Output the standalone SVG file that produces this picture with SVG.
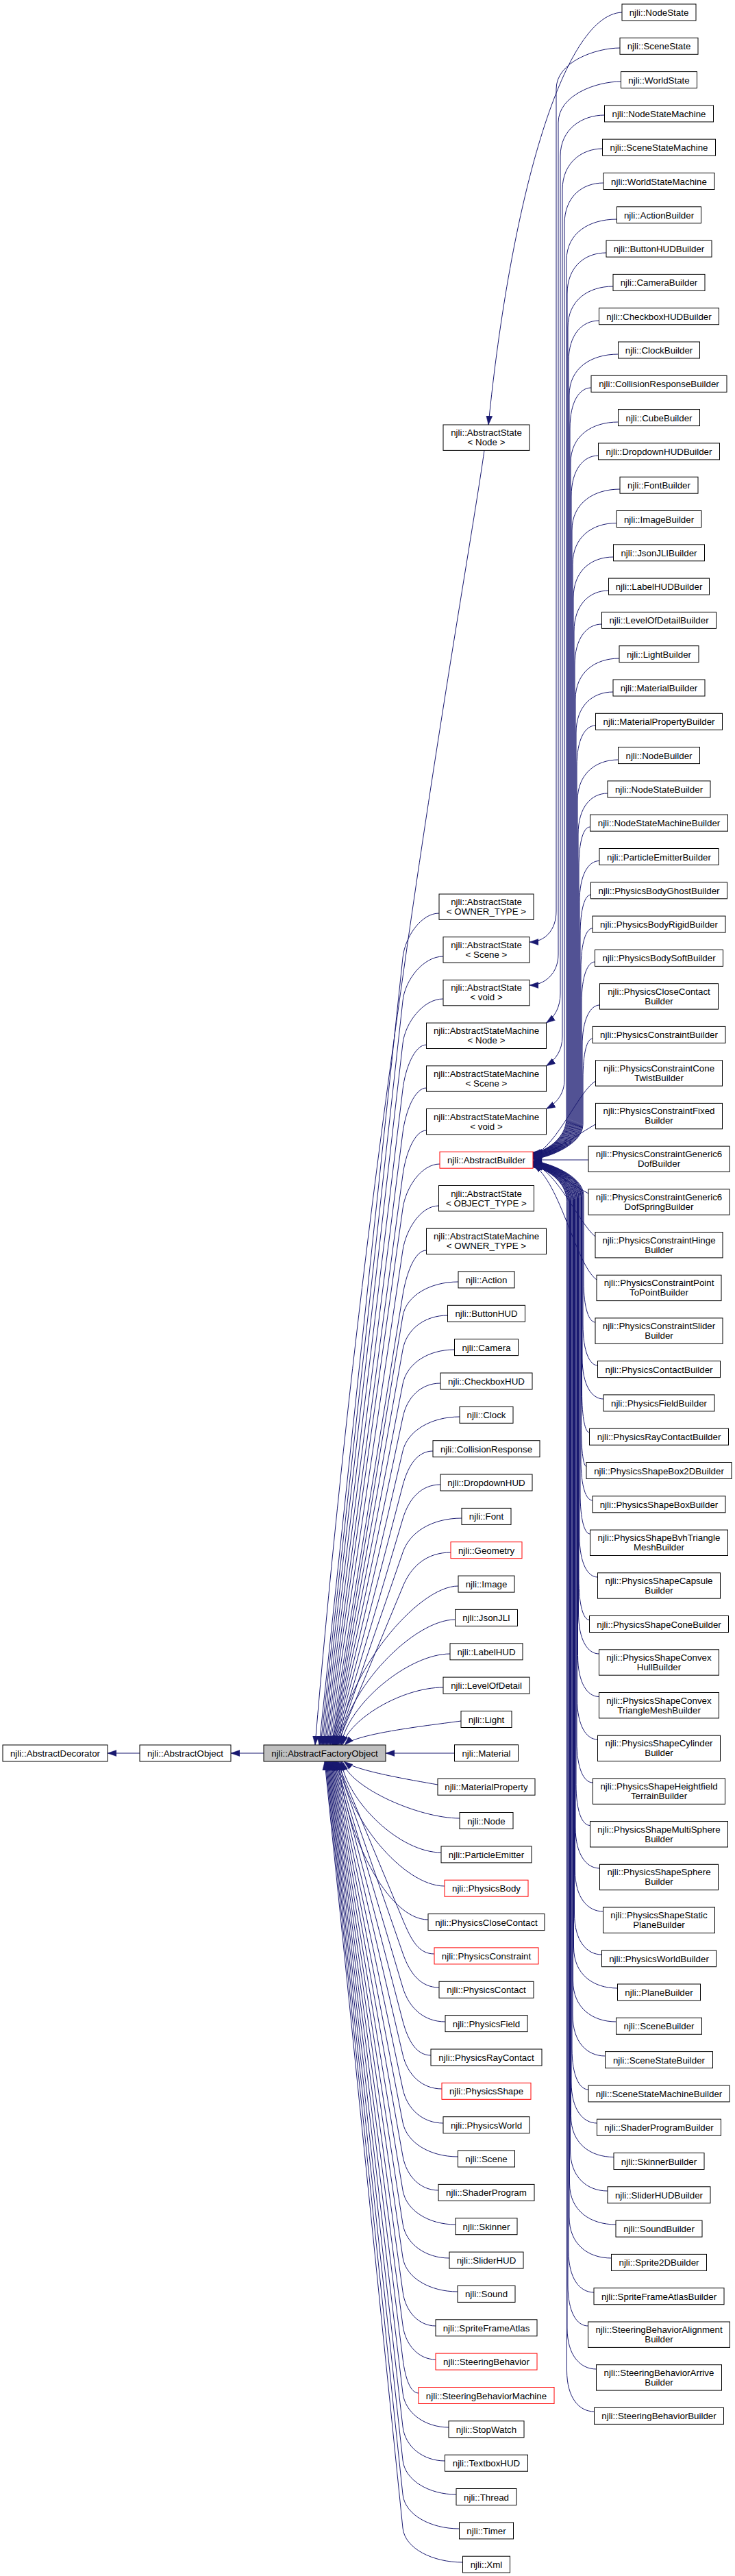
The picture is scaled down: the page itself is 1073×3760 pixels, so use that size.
<svg xmlns="http://www.w3.org/2000/svg" width="1073" height="3760" viewBox="0 0 1073 3760">
<style>
.n rect{fill:#fff;stroke:#000;stroke-width:1}
.r rect{fill:#fff;stroke:#f00;stroke-width:1}
.root rect{fill:#bfbfbf;stroke:#000;stroke-width:1}
text{font-family:"Liberation Sans",Arial,Helvetica,sans-serif;font-size:13.33px;fill:#000;text-anchor:middle}
.e path{fill:none;stroke:#191970;stroke-width:1;marker-end:url(#ah)}
</style>
<defs>
<marker id="ah" markerUnits="userSpaceOnUse" markerWidth="13" markerHeight="10" viewBox="0 0 13 10" refX="13" refY="5" orient="auto">
<path d="M0,0.5 L13,5 L0,9.5 z" fill="#191970" stroke="#191970" stroke-width="0.5"/>
</marker>
</defs>
<rect width="1073" height="3760" fill="#fff"/>
<g id="edges" class="e">
<path d="M385,2559 L337,2559"/>
<path d="M204,2559 L157,2559"/>
<path d="M908,18 C820,22 745,300 713,620"/>
<path d="M905,70 C870,70 812,90 812,130 L812,1330 C812,1358 795,1375 773,1375"/>
<path d="M906.5,119 C870,119 815,139 815,179 L815,1393 C815,1421 795,1438 773,1438"/>
<path d="M882.5,168 C850,168 818,188 818,228 L818,1450 C818,1470 810,1484 797.5,1493.1"/>
<path d="M879.5,217 C850,217 821,237 821,277 L821,1513 C821,1533 811,1547 797.5,1555.8"/>
<path d="M881,267 C850,267 824,287 824,327 L824,1576 C824,1596 813,1610 797.5,1618.5"/>
<path d="M900.5,320 C860,320 827,340 827,380 L827,1632 C827,1662 795,1682 778,1682"/>
<path d="M885,369 C854,369 828,389 828,429 L828,1632.4 C828,1662.4 795,1682.4 778,1682.4"/>
<path d="M895,418 C859,418 829,438 829,478 L829,1632.8 C829,1662.8 795,1682.8 778,1682.8"/>
<path d="M874.5,468 C850,468 830,488 830,528 L830,1633.2 C830,1663.2 795,1683.2 778,1683.2"/>
<path d="M902.5,517 C863,517 831,537 831,577 L831,1633.6 C831,1663.6 795,1683.6 778,1683.6"/>
<path d="M863,566 C846,566 832,586 832,626 L832,1634 C832,1664 795,1684 778,1684"/>
<path d="M902.5,616 C864,616 833,636 833,676 L833,1634.4 C833,1664.4 795,1684.4 778,1684.4"/>
<path d="M873.5,665 C852,665 834,685 834,725 L834,1634.8 C834,1664.8 795,1684.8 778,1684.8"/>
<path d="M905,714 C867,714 835,734 835,774 L835,1635.2 C835,1665.2 795,1685.2 778,1685.2"/>
<path d="M900,763.5 C865,763.5 836,783.5 836,823.5 L836,1635.6 C836,1665.6 795,1685.6 778,1685.6"/>
<path d="M895.5,813 C863,813 837,833 837,873 L837,1636 C837,1666 795,1686 778,1686"/>
<path d="M888.5,862 C861,862 838,882 838,922 L838,1636.4 C838,1666.4 795,1686.4 778,1686.4"/>
<path d="M878.5,911 C857,911 839,931 839,971 L839,1636.8 C839,1666.8 795,1686.8 778,1686.8"/>
<path d="M904,961 C869,961 840,981 840,1021 L840,1637.2 C840,1667.2 795,1687.2 778,1687.2"/>
<path d="M895,1010 C865,1010 841,1030 841,1070 L841,1637.6 C841,1667.6 795,1687.6 778,1687.6"/>
<path d="M869.5,1059 C854,1059 842,1079 842,1119 L842,1638 C842,1668 795,1688 778,1688"/>
<path d="M902.5,1109 C870,1109 843,1129 843,1169 L843,1638.4 C843,1668.4 795,1688.4 778,1688.4"/>
<path d="M887,1158 C863,1158 844,1178 844,1218 L844,1638.8 C844,1668.8 795,1688.8 778,1688.8"/>
<path d="M861.5,1207 C852,1207 845,1227 845,1267 L845,1639.2 C845,1669.2 795,1689.2 778,1689.2"/>
<path d="M875,1256.5 C859,1256.5 846,1276.5 846,1316.5 L846,1639.6 C846,1669.6 795,1689.6 778,1689.6"/>
<path d="M862.5,1306 C854,1306 847,1326 847,1366 L847,1640 C847,1670 795,1690 778,1690"/>
<path d="M865,1355 C856,1355 848,1375 848,1415 L848,1640.4 C848,1670.4 795,1690.4 778,1690.4"/>
<path d="M868.5,1404 C858,1404 849,1424 849,1464 L849,1640.8 C849,1670.8 795,1690.8 778,1690.8"/>
<path d="M875.5,1467 C862,1467 850,1487 850,1527 L850,1641.2 C850,1671.2 795,1691.2 778,1691.2"/>
<path d="M865,1516 C857,1516 851,1536 851,1576 L851,1641.6 C851,1671.6 795,1691.6 778,1691.6"/>
<path d="M869.5,1578 C845,1592 815,1670 778,1687.5"/>
<path d="M869.5,1641 C845,1655 805,1683 778,1690"/>
<path d="M859,1693 L778,1693"/>
<path d="M859,1742 C835,1730 805,1705 778,1696"/>
<path d="M869,1805 C845,1785 815,1712 778,1698"/>
<path d="M871,1868 C840,1845 818,1725 778,1700"/>
<path d="M869,1930 C860,1930 852,1910 852,1870 L852,1745 C852,1715 795,1695 778,1695"/>
<path d="M872.5,1993 C861,1993 851,1973 851,1933 L851,1745.3 C851,1715.3 795,1695.3 778,1695.3"/>
<path d="M881,2042 C864,2042 850,2022 850,1982 L850,1745.6 C850,1715.6 795,1695.6 778,1695.6"/>
<path d="M860.5,2091 C854.5,2091 849.5,2071 849.5,2031 L849.5,1745.9 C849.5,1715.9 795,1695.9 778,1695.9"/>
<path d="M856,2140.5 C852,2140.5 848.5,2120.5 848.5,2080.5 L848.5,1746.2 C848.5,1716.2 795,1696.2 778,1696.2"/>
<path d="M865,2190 C855.5,2190 848,2170 848,2130 L848,1746.5 C848,1716.5 795,1696.5 778,1696.5"/>
<path d="M861.5,2239 C853.5,2239 847,2219 847,2179 L847,1746.8 C847,1716.8 795,1696.8 778,1696.8"/>
<path d="M872.5,2302 C858,2302 846,2282 846,2242 L846,1747.1 C846,1717.1 795,1697.1 778,1697.1"/>
<path d="M860.5,2364.5 C852,2364.5 845,2344.5 845,2304.5 L845,1747.4 C845,1717.4 795,1697.4 778,1697.4"/>
<path d="M874.5,2414 C858,2414 844.5,2394 844.5,2354 L844.5,1747.7 C844.5,1717.7 795,1697.7 778,1697.7"/>
<path d="M874.5,2476.5 C857.5,2476.5 843.5,2456.5 843.5,2416.5 L843.5,1748 C843.5,1718 795,1698 778,1698"/>
<path d="M872.5,2539 C856,2539 842.5,2519 842.5,2479 L842.5,1748.3 C842.5,1718.3 795,1698.3 778,1698.3"/>
<path d="M865.5,2602 C852.5,2602 842,2582 842,2542 L842,1748.6 C842,1718.6 795,1698.6 778,1698.6"/>
<path d="M861.5,2664.5 C850,2664.5 841,2644.5 841,2604.5 L841,1748.9 C841,1718.9 795,1698.9 778,1698.9"/>
<path d="M875.5,2727 C856,2727 840,2707 840,2667 L840,1749.2 C840,1719.2 795,1699.2 778,1699.2"/>
<path d="M880.5,2790 C858,2790 839.5,2770 839.5,2730 L839.5,1749.5 C839.5,1719.5 795,1699.5 778,1699.5"/>
<path d="M878.5,2853 C856.5,2853 838.5,2833 838.5,2793 L838.5,1749.8 C838.5,1719.8 795,1699.8 778,1699.8"/>
<path d="M901.5,2902 C866,2902 837.5,2882 837.5,2842 L837.5,1750.1 C837.5,1720.1 795,1700.1 778,1700.1"/>
<path d="M899.5,2951 C865,2951 836.5,2931 836.5,2891 L836.5,1750.4 C836.5,1720.4 795,1700.4 778,1700.4"/>
<path d="M883.5,3001 C857,3001 836,2981 836,2941 L836,1750.7 C836,1720.7 795,1700.7 778,1700.7"/>
<path d="M859,3050 C846,3050 835,3030 835,2990 L835,1751 C835,1721 795,1701 778,1701"/>
<path d="M871.5,3099 C851,3099 834,3079 834,3039 L834,1751.3 C834,1721.3 795,1701.3 778,1701.3"/>
<path d="M896,3148.5 C861.5,3148.5 833.5,3128.5 833.5,3088.5 L833.5,1751.6 C833.5,1721.6 795,1701.6 778,1701.6"/>
<path d="M887,3198 C857,3198 832.5,3178 832.5,3138 L832.5,1751.9 C832.5,1721.9 795,1701.9 778,1701.9"/>
<path d="M899,3247 C862,3247 831.5,3227 831.5,3187 L831.5,1752.2 C831.5,1722.2 795,1702.2 778,1702.2"/>
<path d="M892.5,3296 C858.5,3296 831,3276 831,3236 L831,1752.5 C831,1722.5 795,1702.5 778,1702.5"/>
<path d="M867,3346 C846.5,3346 830,3326 830,3286 L830,1752.8 C830,1722.8 795,1702.8 778,1702.8"/>
<path d="M858.5,3395 C842,3395 829,3375 829,3335 L829,1753.1 C829,1723.1 795,1703.1 778,1703.1"/>
<path d="M870.5,3458 C847,3458 828,3438 828,3398 L828,1753.4 C828,1723.4 795,1703.4 778,1703.4"/>
<path d="M867.5,3520 C845.5,3520 827.5,3500 827.5,3460 L827.5,1753.7 C827.5,1723.7 795,1703.7 778,1703.7"/>
<path d="M707,657.4 C680,850 540,1600 460,2547"/>
<path d="M641,1333 C614.5,1333 591,1368 588,1398 L466,2547"/>
<path d="M647,1396 C617.5,1396 591,1431 588,1461 L468,2547"/>
<path d="M647,1458 C617.5,1458 591.5,1493 588,1523 L470,2547"/>
<path d="M622.5,1525 C605,1525 591.5,1560 588,1590 L472,2547"/>
<path d="M622.5,1588 C605,1588 592,1623 588,1653 L474,2547"/>
<path d="M622.5,1650 C605,1650 592,1685 588,1715 L476,2547"/>
<path d="M642,1699 C615,1699 592,1734 588,1764 L478,2547"/>
<path d="M640.5,1760 C614,1760 592.5,1795 588,1825 L480,2547"/>
<path d="M622.5,1825 C605,1825 593,1860 588,1890 L482,2547"/>
<path d="M669,1871 C628,1871 593,1891 588,1921 L484,2547"/>
<path d="M653.5,1920 C620,1920 593.4,1940 588,1970 L485,2547"/>
<path d="M663.5,1970 C625,1970 594,1990 588,2020 L486,2547"/>
<path d="M643,2019 C615,2019 594,2039 588,2069 L487,2547"/>
<path d="M671,2068 C630,2068 595,2088 588,2118 L488,2547"/>
<path d="M632,2118 C610,2118 596,2138 588,2168 L489,2547"/>
<path d="M643,2167 C615,2167 597,2187 588,2217 L490,2547"/>
<path d="M674,2216 C631,2216 598,2236 588,2266 L491,2547"/>
<path d="M658,2266 C623,2266 600,2286 588,2316 L492,2547"/>
<path d="M669,2315 C609,2315 504,2443 494,2547"/>
<path d="M664.5,2364 C604,2364 506,2465 496,2547"/>
<path d="M657,2414 C597,2414 508,2487 498,2547"/>
<path d="M647,2463 C587,2463 510,2509 500,2547"/>
<path d="M673,2512 C630,2518 520,2530 503,2547"/>
<path d="M663.5,2559 L563,2559"/>
<path d="M639,2605 C600,2598 520,2585 502,2571"/>
<path d="M671,2654 C611,2654 510,2609 500,2571"/>
<path d="M644,2704 C584,2704 508,2631 498,2571"/>
<path d="M649,2753 C589,2753 506,2653 496,2571"/>
<path d="M625,2802 C565,2802 504,2675 494,2571"/>
<path d="M634,2852 C611,2852 600.5,2832 588,2802 L492,2571"/>
<path d="M641,2901 C614.5,2901 598.4,2881 588,2851 L491,2571"/>
<path d="M650,2951 C619,2951 597,2931 588,2901 L490,2571"/>
<path d="M629,3000 C608.5,3000 596,2980 588,2950 L489,2571"/>
<path d="M645,3049 C616.5,3049 595,3029 588,2999 L488,2571"/>
<path d="M647,3099 C617.5,3099 594.3,3079 588,3049 L487,2571"/>
<path d="M668.5,3148 C628,3148 594,3128 588,3098 L486,2571"/>
<path d="M640,3197 C614,3197 593.4,3177 588,3147 L485,2571"/>
<path d="M665,3247 C626.5,3247 593,3227 588,3197 L484,2571"/>
<path d="M656,3296 C622,3296 592.7,3276 588,3246 L483,2571"/>
<path d="M668,3345 C628,3345 592.4,3325 588,3295 L482,2571"/>
<path d="M636,3395 C612,3395 592,3375 588,3345 L481,2571"/>
<path d="M636,3444 C612,3444 592,3424 588,3394 L480,2571"/>
<path d="M611,3493 C599.5,3493 591.8,3473 588,3443 L479,2571"/>
<path d="M655,3543 C621.5,3543 591.6,3523 588,3493 L478,2571"/>
<path d="M649.5,3592 C618.5,3592 591.4,3572 588,3542 L477,2571"/>
<path d="M666,3641 C627,3641 591.3,3621 588,3591 L476,2571"/>
<path d="M670.5,3691 C629,3691 591.2,3671 588,3641 L475,2571"/>
<path d="M675.5,3740 C631.5,3740 591.1,3720 588,3690 L474,2571"/>
</g>
<g id="AbstractDecorator" class="n"><rect x="4" y="2547" width="153" height="24"/><text x="80.5" y="2564">njli::AbstractDecorator</text></g>
<g id="AbstractObject" class="n"><rect x="204" y="2547" width="133" height="24"/><text x="270.5" y="2564">njli::AbstractObject</text></g>
<g id="AbstractFactoryObject" class="root"><rect x="385" y="2547" width="178" height="24"/><text x="474" y="2564">njli::AbstractFactoryObject</text></g>
<g id="AbstractState_Node" class="n"><rect x="647" y="620" width="126" height="37.4"/><text x="710" y="636">njli::AbstractState</text><text x="710" y="650">&lt; Node &gt;</text></g>
<g id="AbstractState_OWNER_TYPE" class="n"><rect x="641" y="1305" width="138" height="37.4"/><text x="710" y="1321">njli::AbstractState</text><text x="710" y="1335">&lt; OWNER_TYPE &gt;</text></g>
<g id="AbstractState_Scene" class="n"><rect x="647" y="1367.7" width="126" height="37.4"/><text x="710" y="1383.7">njli::AbstractState</text><text x="710" y="1397.7">&lt; Scene &gt;</text></g>
<g id="AbstractState_void" class="n"><rect x="647" y="1430.4" width="126" height="37.4"/><text x="710" y="1446.4">njli::AbstractState</text><text x="710" y="1460.4">&lt; void &gt;</text></g>
<g id="AbstractStateMachine_Node" class="n"><rect x="622.5" y="1493.1" width="175" height="37.4"/><text x="710" y="1509.1">njli::AbstractStateMachine</text><text x="710" y="1523.1">&lt; Node &gt;</text></g>
<g id="AbstractStateMachine_Scene" class="n"><rect x="622.5" y="1555.8" width="175" height="37.4"/><text x="710" y="1571.8">njli::AbstractStateMachine</text><text x="710" y="1585.8">&lt; Scene &gt;</text></g>
<g id="AbstractStateMachine_void" class="n"><rect x="622.5" y="1618.5" width="175" height="37.4"/><text x="710" y="1634.5">njli::AbstractStateMachine</text><text x="710" y="1648.5">&lt; void &gt;</text></g>
<g id="AbstractBuilder" class="r"><rect x="642" y="1681.2" width="136" height="24"/><text x="710" y="1698.2">njli::AbstractBuilder</text></g>
<g id="AbstractState_OBJECT_TYPE" class="n"><rect x="640.5" y="1730.5" width="139" height="37.4"/><text x="710" y="1746.5">njli::AbstractState</text><text x="710" y="1760.5">&lt; OBJECT_TYPE &gt;</text></g>
<g id="AbstractStateMachine_OWNER_TYPE" class="n"><rect x="622.5" y="1793.2" width="175" height="37.4"/><text x="710" y="1809.2">njli::AbstractStateMachine</text><text x="710" y="1823.2">&lt; OWNER_TYPE &gt;</text></g>
<g id="Action" class="n"><rect x="669" y="1855.9" width="82" height="24"/><text x="710" y="1872.9">njli::Action</text></g>
<g id="ButtonHUD" class="n"><rect x="653.5" y="1905.3" width="113" height="24"/><text x="710" y="1922.3">njli::ButtonHUD</text></g>
<g id="Camera" class="n"><rect x="663.5" y="1954.6" width="93" height="24"/><text x="710" y="1971.6">njli::Camera</text></g>
<g id="CheckboxHUD" class="n"><rect x="643" y="2004" width="134" height="24"/><text x="710" y="2021">njli::CheckboxHUD</text></g>
<g id="Clock" class="n"><rect x="671" y="2053.3" width="78" height="24"/><text x="710" y="2070.3">njli::Clock</text></g>
<g id="CollisionResponse" class="n"><rect x="632" y="2102.7" width="156" height="24"/><text x="710" y="2119.7">njli::CollisionResponse</text></g>
<g id="DropdownHUD" class="n"><rect x="643" y="2152" width="134" height="24"/><text x="710" y="2169">njli::DropdownHUD</text></g>
<g id="Font" class="n"><rect x="674" y="2201.4" width="72" height="24"/><text x="710" y="2218.4">njli::Font</text></g>
<g id="Geometry" class="r"><rect x="658" y="2250.7" width="104" height="24"/><text x="710" y="2267.7">njli::Geometry</text></g>
<g id="Image" class="n"><rect x="669" y="2300.1" width="82" height="24"/><text x="710" y="2317.1">njli::Image</text></g>
<g id="JsonJLI" class="n"><rect x="664.5" y="2349.4" width="91" height="24"/><text x="710" y="2366.4">njli::JsonJLI</text></g>
<g id="LabelHUD" class="n"><rect x="657" y="2398.8" width="106" height="24"/><text x="710" y="2415.8">njli::LabelHUD</text></g>
<g id="LevelOfDetail" class="n"><rect x="647" y="2448.1" width="126" height="24"/><text x="710" y="2465.1">njli::LevelOfDetail</text></g>
<g id="Light" class="n"><rect x="673" y="2497.5" width="74" height="24"/><text x="710" y="2514.5">njli::Light</text></g>
<g id="Material" class="n"><rect x="663.5" y="2546.8" width="93" height="24"/><text x="710" y="2563.8">njli::Material</text></g>
<g id="MaterialProperty" class="n"><rect x="639" y="2596.2" width="142" height="24"/><text x="710" y="2613.2">njli::MaterialProperty</text></g>
<g id="Node" class="n"><rect x="671" y="2645.5" width="78" height="24"/><text x="710" y="2662.5">njli::Node</text></g>
<g id="ParticleEmitter" class="n"><rect x="644" y="2694.9" width="132" height="24"/><text x="710" y="2711.9">njli::ParticleEmitter</text></g>
<g id="PhysicsBody" class="r"><rect x="649" y="2744.2" width="122" height="24"/><text x="710" y="2761.2">njli::PhysicsBody</text></g>
<g id="PhysicsCloseContact" class="n"><rect x="625" y="2793.6" width="170" height="24"/><text x="710" y="2810.6">njli::PhysicsCloseContact</text></g>
<g id="PhysicsConstraint" class="r"><rect x="634" y="2842.9" width="152" height="24"/><text x="710" y="2859.9">njli::PhysicsConstraint</text></g>
<g id="PhysicsContact" class="n"><rect x="641" y="2892.3" width="138" height="24"/><text x="710" y="2909.3">njli::PhysicsContact</text></g>
<g id="PhysicsField" class="n"><rect x="650" y="2941.6" width="120" height="24"/><text x="710" y="2958.6">njli::PhysicsField</text></g>
<g id="PhysicsRayContact" class="n"><rect x="629" y="2991" width="162" height="24"/><text x="710" y="3008">njli::PhysicsRayContact</text></g>
<g id="PhysicsShape" class="r"><rect x="645" y="3040.3" width="130" height="24"/><text x="710" y="3057.3">njli::PhysicsShape</text></g>
<g id="PhysicsWorld" class="n"><rect x="647" y="3089.7" width="126" height="24"/><text x="710" y="3106.7">njli::PhysicsWorld</text></g>
<g id="Scene" class="n"><rect x="668.5" y="3139" width="83" height="24"/><text x="710" y="3156">njli::Scene</text></g>
<g id="ShaderProgram" class="n"><rect x="640" y="3188.4" width="140" height="24"/><text x="710" y="3205.4">njli::ShaderProgram</text></g>
<g id="Skinner" class="n"><rect x="665" y="3237.7" width="90" height="24"/><text x="710" y="3254.7">njli::Skinner</text></g>
<g id="SliderHUD" class="n"><rect x="656" y="3287.1" width="108" height="24"/><text x="710" y="3304.1">njli::SliderHUD</text></g>
<g id="Sound" class="n"><rect x="668" y="3336.4" width="84" height="24"/><text x="710" y="3353.4">njli::Sound</text></g>
<g id="SpriteFrameAtlas" class="n"><rect x="636" y="3385.8" width="148" height="24"/><text x="710" y="3402.8">njli::SpriteFrameAtlas</text></g>
<g id="SteeringBehavior" class="r"><rect x="636" y="3435.1" width="148" height="24"/><text x="710" y="3452.1">njli::SteeringBehavior</text></g>
<g id="SteeringBehaviorMachine" class="r"><rect x="611" y="3484.5" width="198" height="24"/><text x="710" y="3501.5">njli::SteeringBehaviorMachine</text></g>
<g id="StopWatch" class="n"><rect x="655" y="3533.8" width="110" height="24"/><text x="710" y="3550.8">njli::StopWatch</text></g>
<g id="TextboxHUD" class="n"><rect x="649.5" y="3583.2" width="121" height="24"/><text x="710" y="3600.2">njli::TextboxHUD</text></g>
<g id="Thread" class="n"><rect x="666" y="3632.5" width="88" height="24"/><text x="710" y="3649.5">njli::Thread</text></g>
<g id="Timer" class="n"><rect x="670.5" y="3681.9" width="79" height="24"/><text x="710" y="3698.9">njli::Timer</text></g>
<g id="Xml" class="n"><rect x="675.5" y="3731.2" width="69" height="24"/><text x="710" y="3748.2">njli::Xml</text></g>
<g id="NodeState" class="n"><rect x="908" y="6" width="108" height="24"/><text x="962" y="23">njli::NodeState</text></g>
<g id="SceneState" class="n"><rect x="905" y="55.3" width="114" height="24"/><text x="962" y="72.3">njli::SceneState</text></g>
<g id="WorldState" class="n"><rect x="906.5" y="104.6" width="111" height="24"/><text x="962" y="121.6">njli::WorldState</text></g>
<g id="NodeStateMachine" class="n"><rect x="882.5" y="153.9" width="159" height="24"/><text x="962" y="170.9">njli::NodeStateMachine</text></g>
<g id="SceneStateMachine" class="n"><rect x="879.5" y="203.2" width="165" height="24"/><text x="962" y="220.2">njli::SceneStateMachine</text></g>
<g id="WorldStateMachine" class="n"><rect x="881" y="252.5" width="162" height="24"/><text x="962" y="269.5">njli::WorldStateMachine</text></g>
<g id="ActionBuilder" class="n"><rect x="900.5" y="301.8" width="123" height="24"/><text x="962" y="318.8">njli::ActionBuilder</text></g>
<g id="ButtonHUDBuilder" class="n"><rect x="885" y="351.1" width="154" height="24"/><text x="962" y="368.1">njli::ButtonHUDBuilder</text></g>
<g id="CameraBuilder" class="n"><rect x="895" y="400.4" width="134" height="24"/><text x="962" y="417.4">njli::CameraBuilder</text></g>
<g id="CheckboxHUDBuilder" class="n"><rect x="874.5" y="449.7" width="175" height="24"/><text x="962" y="466.7">njli::CheckboxHUDBuilder</text></g>
<g id="ClockBuilder" class="n"><rect x="902.5" y="499" width="119" height="24"/><text x="962" y="516">njli::ClockBuilder</text></g>
<g id="CollisionResponseBuilder" class="n"><rect x="863" y="548.3" width="198" height="24"/><text x="962" y="565.3">njli::CollisionResponseBuilder</text></g>
<g id="CubeBuilder" class="n"><rect x="902.5" y="597.6" width="119" height="24"/><text x="962" y="614.6">njli::CubeBuilder</text></g>
<g id="DropdownHUDBuilder" class="n"><rect x="873.5" y="646.9" width="177" height="24"/><text x="962" y="663.9">njli::DropdownHUDBuilder</text></g>
<g id="FontBuilder" class="n"><rect x="905" y="696.2" width="114" height="24"/><text x="962" y="713.2">njli::FontBuilder</text></g>
<g id="ImageBuilder" class="n"><rect x="900" y="745.5" width="124" height="24"/><text x="962" y="762.5">njli::ImageBuilder</text></g>
<g id="JsonJLIBuilder" class="n"><rect x="895.5" y="794.8" width="133" height="24"/><text x="962" y="811.8">njli::JsonJLIBuilder</text></g>
<g id="LabelHUDBuilder" class="n"><rect x="888.5" y="844.1" width="147" height="24"/><text x="962" y="861.1">njli::LabelHUDBuilder</text></g>
<g id="LevelOfDetailBuilder" class="n"><rect x="878.5" y="893.4" width="167" height="24"/><text x="962" y="910.4">njli::LevelOfDetailBuilder</text></g>
<g id="LightBuilder" class="n"><rect x="904" y="942.7" width="116" height="24"/><text x="962" y="959.7">njli::LightBuilder</text></g>
<g id="MaterialBuilder" class="n"><rect x="895" y="992" width="134" height="24"/><text x="962" y="1009">njli::MaterialBuilder</text></g>
<g id="MaterialPropertyBuilder" class="n"><rect x="869.5" y="1041.3" width="185" height="24"/><text x="962" y="1058.3">njli::MaterialPropertyBuilder</text></g>
<g id="NodeBuilder" class="n"><rect x="902.5" y="1090.6" width="119" height="24"/><text x="962" y="1107.6">njli::NodeBuilder</text></g>
<g id="NodeStateBuilder" class="n"><rect x="887" y="1139.9" width="150" height="24"/><text x="962" y="1156.9">njli::NodeStateBuilder</text></g>
<g id="NodeStateMachineBuilder" class="n"><rect x="861.5" y="1189.2" width="201" height="24"/><text x="962" y="1206.2">njli::NodeStateMachineBuilder</text></g>
<g id="ParticleEmitterBuilder" class="n"><rect x="875" y="1238.5" width="174" height="24"/><text x="962" y="1255.5">njli::ParticleEmitterBuilder</text></g>
<g id="PhysicsBodyGhostBuilder" class="n"><rect x="862.5" y="1287.8" width="199" height="24"/><text x="962" y="1304.8">njli::PhysicsBodyGhostBuilder</text></g>
<g id="PhysicsBodyRigidBuilder" class="n"><rect x="865" y="1337.1" width="194" height="24"/><text x="962" y="1354.1">njli::PhysicsBodyRigidBuilder</text></g>
<g id="PhysicsBodySoftBuilder" class="n"><rect x="868.5" y="1386.4" width="187" height="24"/><text x="962" y="1403.4">njli::PhysicsBodySoftBuilder</text></g>
<g id="PhysicsCloseContactBuilder" class="n"><rect x="875.5" y="1435.7" width="173" height="37.4"/><text x="962" y="1451.7">njli::PhysicsCloseContact</text><text x="962" y="1465.7">Builder</text></g>
<g id="PhysicsConstraintBuilder" class="n"><rect x="865" y="1498.4" width="194" height="24"/><text x="962" y="1515.4">njli::PhysicsConstraintBuilder</text></g>
<g id="PhysicsConstraintConeTwistBuilder" class="n"><rect x="869.5" y="1547.7" width="185" height="37.4"/><text x="962" y="1563.7">njli::PhysicsConstraintCone</text><text x="962" y="1577.7">TwistBuilder</text></g>
<g id="PhysicsConstraintFixedBuilder" class="n"><rect x="869.5" y="1610.4" width="185" height="37.4"/><text x="962" y="1626.4">njli::PhysicsConstraintFixed</text><text x="962" y="1640.4">Builder</text></g>
<g id="PhysicsConstraintGeneric6DofBuilder" class="n"><rect x="859" y="1673.1" width="206" height="37.4"/><text x="962" y="1689.1">njli::PhysicsConstraintGeneric6</text><text x="962" y="1703.1">DofBuilder</text></g>
<g id="PhysicsConstraintGeneric6DofSpringBuilder" class="n"><rect x="859" y="1735.8" width="206" height="37.4"/><text x="962" y="1751.8">njli::PhysicsConstraintGeneric6</text><text x="962" y="1765.8">DofSpringBuilder</text></g>
<g id="PhysicsConstraintHingeBuilder" class="n"><rect x="869" y="1798.5" width="186" height="37.4"/><text x="962" y="1814.5">njli::PhysicsConstraintHinge</text><text x="962" y="1828.5">Builder</text></g>
<g id="PhysicsConstraintPointToPointBuilder" class="n"><rect x="871" y="1861.2" width="182" height="37.4"/><text x="962" y="1877.2">njli::PhysicsConstraintPoint</text><text x="962" y="1891.2">ToPointBuilder</text></g>
<g id="PhysicsConstraintSliderBuilder" class="n"><rect x="869" y="1923.9" width="186" height="37.4"/><text x="962" y="1939.9">njli::PhysicsConstraintSlider</text><text x="962" y="1953.9">Builder</text></g>
<g id="PhysicsContactBuilder" class="n"><rect x="872.5" y="1986.6" width="179" height="24"/><text x="962" y="2003.6">njli::PhysicsContactBuilder</text></g>
<g id="PhysicsFieldBuilder" class="n"><rect x="881" y="2035.9" width="162" height="24"/><text x="962" y="2052.9">njli::PhysicsFieldBuilder</text></g>
<g id="PhysicsRayContactBuilder" class="n"><rect x="860.5" y="2085.2" width="203" height="24"/><text x="962" y="2102.2">njli::PhysicsRayContactBuilder</text></g>
<g id="PhysicsShapeBox2DBuilder" class="n"><rect x="856" y="2134.5" width="212" height="24"/><text x="962" y="2151.5">njli::PhysicsShapeBox2DBuilder</text></g>
<g id="PhysicsShapeBoxBuilder" class="n"><rect x="865" y="2183.8" width="194" height="24"/><text x="962" y="2200.8">njli::PhysicsShapeBoxBuilder</text></g>
<g id="PhysicsShapeBvhTriangleMeshBuilder" class="n"><rect x="861.5" y="2233.1" width="201" height="37.4"/><text x="962" y="2249.1">njli::PhysicsShapeBvhTriangle</text><text x="962" y="2263.1">MeshBuilder</text></g>
<g id="PhysicsShapeCapsuleBuilder" class="n"><rect x="872.5" y="2295.8" width="179" height="37.4"/><text x="962" y="2311.8">njli::PhysicsShapeCapsule</text><text x="962" y="2325.8">Builder</text></g>
<g id="PhysicsShapeConeBuilder" class="n"><rect x="860.5" y="2358.5" width="203" height="24"/><text x="962" y="2375.5">njli::PhysicsShapeConeBuilder</text></g>
<g id="PhysicsShapeConvexHullBuilder" class="n"><rect x="874.5" y="2407.8" width="175" height="37.4"/><text x="962" y="2423.8">njli::PhysicsShapeConvex</text><text x="962" y="2437.8">HullBuilder</text></g>
<g id="PhysicsShapeConvexTriangleMeshBuilder" class="n"><rect x="874.5" y="2470.5" width="175" height="37.4"/><text x="962" y="2486.5">njli::PhysicsShapeConvex</text><text x="962" y="2500.5">TriangleMeshBuilder</text></g>
<g id="PhysicsShapeCylinderBuilder" class="n"><rect x="872.5" y="2533.2" width="179" height="37.4"/><text x="962" y="2549.2">njli::PhysicsShapeCylinder</text><text x="962" y="2563.2">Builder</text></g>
<g id="PhysicsShapeHeightfieldTerrainBuilder" class="n"><rect x="865.5" y="2595.9" width="193" height="37.4"/><text x="962" y="2611.9">njli::PhysicsShapeHeightfield</text><text x="962" y="2625.9">TerrainBuilder</text></g>
<g id="PhysicsShapeMultiSphereBuilder" class="n"><rect x="861.5" y="2658.6" width="201" height="37.4"/><text x="962" y="2674.6">njli::PhysicsShapeMultiSphere</text><text x="962" y="2688.6">Builder</text></g>
<g id="PhysicsShapeSphereBuilder" class="n"><rect x="875.5" y="2721.3" width="173" height="37.4"/><text x="962" y="2737.3">njli::PhysicsShapeSphere</text><text x="962" y="2751.3">Builder</text></g>
<g id="PhysicsShapeStaticPlaneBuilder" class="n"><rect x="880.5" y="2784" width="163" height="37.4"/><text x="962" y="2800">njli::PhysicsShapeStatic</text><text x="962" y="2814">PlaneBuilder</text></g>
<g id="PhysicsWorldBuilder" class="n"><rect x="878.5" y="2846.7" width="167" height="24"/><text x="962" y="2863.7">njli::PhysicsWorldBuilder</text></g>
<g id="PlaneBuilder" class="n"><rect x="901.5" y="2896" width="121" height="24"/><text x="962" y="2913">njli::PlaneBuilder</text></g>
<g id="SceneBuilder" class="n"><rect x="899.5" y="2945.3" width="125" height="24"/><text x="962" y="2962.3">njli::SceneBuilder</text></g>
<g id="SceneStateBuilder" class="n"><rect x="883.5" y="2994.6" width="157" height="24"/><text x="962" y="3011.6">njli::SceneStateBuilder</text></g>
<g id="SceneStateMachineBuilder" class="n"><rect x="859" y="3043.9" width="206" height="24"/><text x="962" y="3060.9">njli::SceneStateMachineBuilder</text></g>
<g id="ShaderProgramBuilder" class="n"><rect x="871.5" y="3093.2" width="181" height="24"/><text x="962" y="3110.2">njli::ShaderProgramBuilder</text></g>
<g id="SkinnerBuilder" class="n"><rect x="896" y="3142.5" width="132" height="24"/><text x="962" y="3159.5">njli::SkinnerBuilder</text></g>
<g id="SliderHUDBuilder" class="n"><rect x="887" y="3191.8" width="150" height="24"/><text x="962" y="3208.8">njli::SliderHUDBuilder</text></g>
<g id="SoundBuilder" class="n"><rect x="899" y="3241.1" width="126" height="24"/><text x="962" y="3258.1">njli::SoundBuilder</text></g>
<g id="Sprite2DBuilder" class="n"><rect x="892.5" y="3290.4" width="139" height="24"/><text x="962" y="3307.4">njli::Sprite2DBuilder</text></g>
<g id="SpriteFrameAtlasBuilder" class="n"><rect x="867" y="3339.7" width="190" height="24"/><text x="962" y="3356.7">njli::SpriteFrameAtlasBuilder</text></g>
<g id="SteeringBehaviorAlignmentBuilder" class="n"><rect x="858.5" y="3389" width="207" height="37.4"/><text x="962" y="3405">njli::SteeringBehaviorAlignment</text><text x="962" y="3419">Builder</text></g>
<g id="SteeringBehaviorArriveBuilder" class="n"><rect x="870.5" y="3451.7" width="183" height="37.4"/><text x="962" y="3467.7">njli::SteeringBehaviorArrive</text><text x="962" y="3481.7">Builder</text></g>
<g id="SteeringBehaviorBuilder" class="n"><rect x="867.5" y="3514.4" width="189" height="24"/><text x="962" y="3531.4">njli::SteeringBehaviorBuilder</text></g>
</svg>
